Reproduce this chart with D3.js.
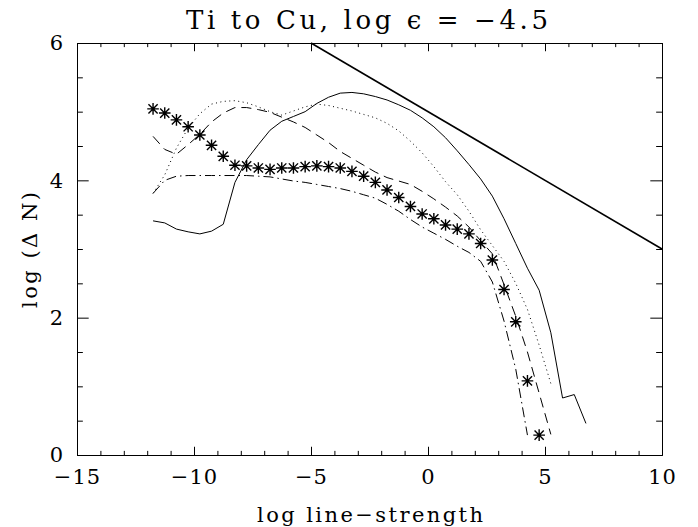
<!DOCTYPE html>
<html>
<head>
<meta charset="utf-8">
<script src="https://cdn.jsdelivr.net/npm/d3@7"></script>
<style>
  html, body { margin: 0; padding: 0; background: #fff; }
</style>
</head>
<body>
<div id="container"></div>
<script>
//tick labels
var xTicks = [-15, -10, -5, 0, 5, 10];
var yTicks = [0, 2, 4, 6];

//shared x grid of the curves (log line-strength)
var gridX = [-11.75, -11.25, -10.75, -10.25, -9.75, -9.25, -8.75, -8.25, -7.75, -7.25,
             -6.75, -6.25, -5.75, -5.25, -4.75, -4.25, -3.75, -3.25, -2.75, -2.25,
             -1.75, -1.25, -0.75, -0.25, 0.25, 0.75, 1.25, 1.75, 2.25, 2.75,
             3.25, 3.75, 4.25, 4.75, 5.25, 5.75, 6.25, 6.75];

//asterisk series
var starY = [5.04, 4.98, 4.88, 4.78, 4.66, 4.51, 4.35, 4.22, 4.21, 4.18,
             4.16, 4.18, 4.18, 4.20, 4.21, 4.20, 4.18, 4.13, 4.06, 3.97,
             3.86, 3.75, 3.62, 3.51, 3.44, 3.35, 3.29, 3.22, 3.08, 2.84,
             2.41, 1.94, 1.08, 0.29];

//solid curve
var solidY = [3.41, 3.38, 3.29, 3.25, 3.22, 3.26, 3.36, 3.97, 4.30, 4.52,
              4.73, 4.86, 4.93, 5.00, 5.12, 5.21, 5.27, 5.28, 5.26, 5.22,
              5.17, 5.10, 5.02, 4.91, 4.78, 4.62, 4.43, 4.23, 4.02, 3.77,
              3.44, 3.08, 2.72, 2.40, 1.78, 0.83, 0.88, 0.46];

//dotted curve
var dottedY = [3.81, 4.08, 4.47, 4.76, 4.97, 5.11, 5.15, 5.16, 5.13, 5.07,
               5.00, 4.95, 5.01, 5.07, 5.11, 5.09, 5.05, 5.01, 4.96, 4.91,
               4.83, 4.72, 4.57, 4.40, 4.20, 3.98, 3.79, 3.55, 3.28, 3.05,
               2.82, 2.50, 2.12, 1.60, 1.04];

//dashed curve
var dashedY = [4.64, 4.45, 4.38, 4.52, 4.67, 4.85, 4.98, 5.06, 5.06, 5.03,
               4.99, 4.92, 4.85, 4.77, 4.66, 4.55, 4.42, 4.32, 4.22, 4.12,
               4.04, 3.99, 3.94, 3.84, 3.73, 3.61, 3.48, 3.32, 3.12, 2.93,
               2.48, 2.02, 1.50, 0.90, 0.30];

//dash-dot curve
var dashDotY = [3.81, 4.00, 4.06, 4.07, 4.07, 4.07, 4.07, 4.07, 4.07, 4.06,
                4.05, 4.02, 3.99, 3.97, 3.94, 3.91, 3.88, 3.84, 3.79, 3.74,
                3.65, 3.55, 3.43, 3.32, 3.23, 3.14, 3.04, 2.95, 2.82, 2.52,
                1.95, 1.25, 0.29];

//thick reference line
var refX = [-5, 10];
var refY = [6, 3];

var serif = "DejaVu Serif";

window.onload = drawChart;

function drawChart() {
    var width = 698,
        height = 527;
    var left = 77, right = 662, top = 43, bottom = 455;

    var svg = d3.select("#container")
        .append("svg")
        .attr("width", width)
        .attr("height", height)
        .attr("font-family", serif);

    var x = d3.scaleLinear().domain([-15, 10]).range([left, right]);
    var y = d3.scaleLinear().domain([0, 6]).range([bottom, top]);

    //tick lengths like IDL (2% of the plot size)
    var xTickLen = 0.02 * (bottom - top),
        yTickLen = 0.02 * (right - left);

    var xMinor = d3.range(-15, 10.01, 1).filter(function(v){ return xTicks.indexOf(v) < 0; });
    var yMinor = d3.range(0, 6.01, 0.5).filter(function(v){ return yTicks.indexOf(v) < 0; });

    function styleAxis(g) {
        g.attr("font-family", serif);
        g.selectAll("path.domain").attr("stroke", "#000").attr("stroke-width", 1);
        g.selectAll(".tick line").attr("stroke", "#000").attr("stroke-width", 1);
        g.selectAll("text").attr("font-size", 21).attr("fill", "#000");
    }

    //bottom axis
    svg.append("g")
        .attr("transform", "translate(0," + bottom + ")")
        .call(d3.axisBottom(x).tickValues(xTicks).tickSize(-xTickLen).tickSizeOuter(0)
            .tickPadding(14).tickFormat(function(d){ return d < 0 ? "\u2212" + Math.abs(d) : d; }))
        .call(styleAxis)
        .selectAll("text")
        .attr("letter-spacing", 1);

    svg.append("g")
        .attr("transform", "translate(0," + bottom + ")")
        .call(d3.axisBottom(x).tickValues(xMinor).tickSize(-xTickLen / 2).tickSizeOuter(0).tickFormat(""))
        .call(styleAxis);

    //top axis
    svg.append("g")
        .attr("transform", "translate(0," + top + ")")
        .call(d3.axisTop(x).tickValues(xTicks).tickSize(-xTickLen).tickSizeOuter(0).tickFormat(""))
        .call(styleAxis);
    svg.append("g")
        .attr("transform", "translate(0," + top + ")")
        .call(d3.axisTop(x).tickValues(xMinor).tickSize(-xTickLen / 2).tickSizeOuter(0).tickFormat(""))
        .call(styleAxis);

    //left axis
    svg.append("g")
        .attr("transform", "translate(" + left + ",0)")
        .call(d3.axisLeft(y).tickValues(yTicks).tickSize(-yTickLen).tickSizeOuter(0)
            .tickPadding(14).tickFormat(d3.format("d")))
        .call(styleAxis);
    svg.append("g")
        .attr("transform", "translate(" + left + ",0)")
        .call(d3.axisLeft(y).tickValues(yMinor).tickSize(-yTickLen / 2).tickSizeOuter(0).tickFormat(""))
        .call(styleAxis);

    //right axis
    svg.append("g")
        .attr("transform", "translate(" + right + ",0)")
        .call(d3.axisRight(y).tickValues(yTicks).tickSize(-yTickLen).tickSizeOuter(0).tickFormat(""))
        .call(styleAxis);
    svg.append("g")
        .attr("transform", "translate(" + right + ",0)")
        .call(d3.axisRight(y).tickValues(yMinor).tickSize(-yTickLen / 2).tickSizeOuter(0).tickFormat(""))
        .call(styleAxis);

    //line generator
    var line = d3.line()
        .x(function(d){ return x(d[0]); })
        .y(function(d){ return y(d[1]); });

    function pairs(xs, ys) {
        return ys.map(function(v, i){ return [xs[i], v]; });
    }

    var curves = [
        { data: pairs(gridX, solidY), dash: null, w: 1 },
        { data: pairs(gridX, dottedY), dash: "1,3.5", w: 1 },
        { data: pairs(gridX, dashedY), dash: "10,6", w: 1 },
        { data: pairs(gridX, dashDotY), dash: "10,4,1.5,4", w: 1 },
        { data: pairs(refX, refY), dash: null, w: 1.6 }
    ];

    svg.selectAll(".curve")
        .data(curves)
        .enter()
        .append("path")
        .attr("class", "curve")
        .attr("d", function(d){ return line(d.data); })
        .attr("fill", "none")
        .attr("stroke", "#000")
        .attr("stroke-width", function(d){ return d.w; })
        .attr("stroke-dasharray", function(d){ return d.dash; });

    //asterisk symbols
    var s = 5.8, sd = 4.6;
    var starPath = "M0," + (-s) + "V" + s +
        "M" + (-s) + ",0H" + s +
        "M" + (-sd) + "," + (-sd) + "L" + sd + "," + sd +
        "M" + (-sd) + "," + sd + "L" + sd + "," + (-sd);

    svg.selectAll(".star")
        .data(pairs(gridX, starY))
        .enter()
        .append("path")
        .attr("class", "star")
        .attr("transform", function(d){ return "translate(" + x(d[0]) + "," + y(d[1]) + ")"; })
        .attr("d", starPath)
        .attr("fill", "none")
        .attr("stroke", "#000")
        .attr("stroke-width", 1.4);

    //titles
    svg.append("text")
        .attr("x", 186)
        .attr("y", 29)
        .attr("font-size", 26)
        .attr("textLength", 362)
        .attr("lengthAdjust", "spacing")
        .text("Ti to Cu, log \u03F5 = \u22124.5");

    svg.append("text")
        .attr("x", 257)
        .attr("y", 522)
        .attr("font-size", 21)
        .attr("textLength", 226)
        .attr("lengthAdjust", "spacing")
        .text("log line\u2212strength");

    svg.append("text")
        .attr("transform", "translate(37,308) rotate(-90)")
        .attr("font-size", 21)
        .attr("textLength", 116)
        .attr("lengthAdjust", "spacing")
        .text("log (\u0394 N)");
}
</script>
</body>
</html>
